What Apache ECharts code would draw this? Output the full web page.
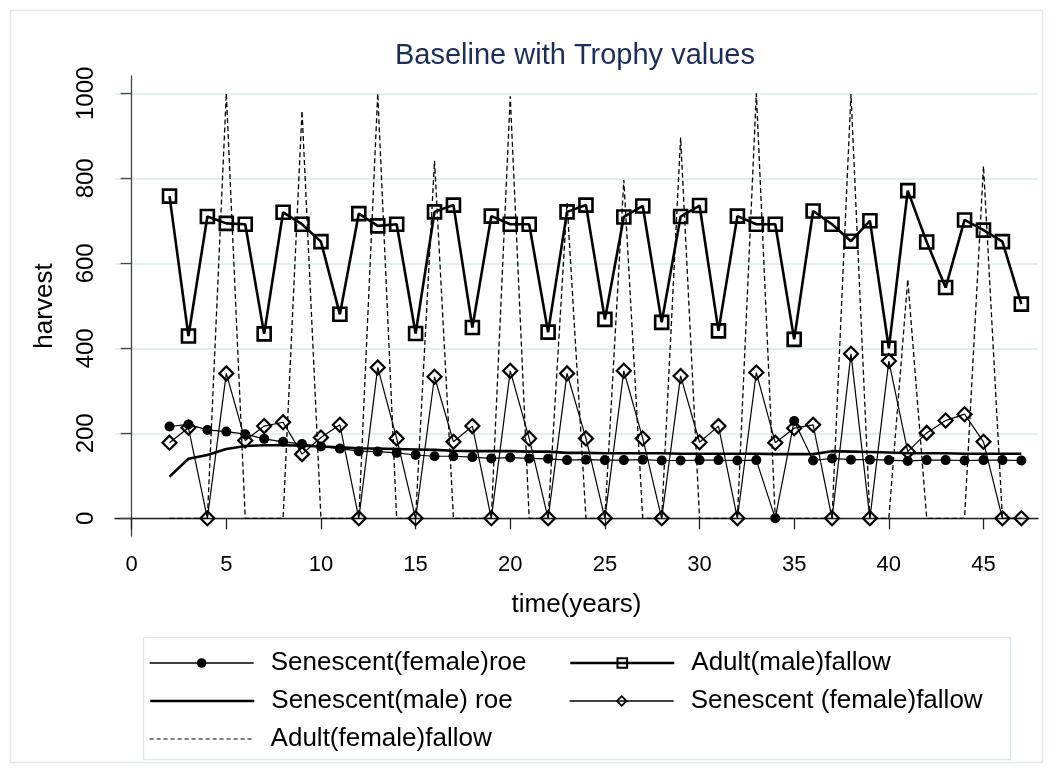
<!DOCTYPE html>
<html>
<head>
<meta charset="utf-8">
<script src="https://cdn.jsdelivr.net/npm/echarts@6/dist/echarts.min.js"></script>
<style>
  html, body { margin: 0; padding: 0; background: #fff; }
  #chart { width: 1053px; height: 773px; }
</style>
</head>
<body>
<div id="chart"></div>
<script>
// Harvest per year, baseline run with trophy values
const years = [2, 3, 4, 5, 6, 7, 8, 9, 10, 11, 12, 13, 14, 15, 16, 17, 18, 19, 20, 21, 22, 23, 24,
  25, 26, 27, 28, 29, 30, 31, 32, 33, 34, 35, 36, 37, 38, 39, 40, 41, 42, 43, 44, 45, 46, 47];

const senescentFemaleRoe = [216, 221, 208, 204, 198, 187, 180, 175, 169, 164, 158, 157, 154, 149,
  146, 146, 144, 141, 143, 141, 140, 137, 138, 137, 137, 138, 136, 136, 137, 137, 136, 137, 0, 229,
  136, 141, 138, 138, 137, 135, 137, 137, 136, 137, 137, 136];

const adultMaleFallow = [758, 429, 710, 694, 692, 434, 720, 692, 651, 480, 717, 688, 692, 435, 721,
  737, 449, 711, 692, 692, 438, 721, 737, 468, 709, 735, 461, 710, 736, 441, 711, 692, 692, 421, 723,
  692, 652, 700, 400, 771, 650, 543, 702, 678, 651, 504];

const senescentMaleRoe = [98, 140, 149, 163, 170, 172, 172, 171, 169, 167, 165, 164, 163, 162, 161,
  159, 158, 158, 158, 157, 157, 154, 154, 153, 153, 153, 153, 152, 152, 152, 152, 152, 151, 151, 151,
  158, 157, 156, 155, 153, 153, 153, 152, 152, 152, 152];

const senescentFemaleFallow = [178, 213, 0, 341, 183, 217, 226, 151, 190, 220, 0, 355, 188, 0, 333,
  180, 217, 0, 347, 188, 0, 341, 188, 0, 347, 188, 0, 335, 179, 217, 0, 343, 178, 212, 220, 0, 387, 0,
  370, 157, 201, 230, 245, 180, 0, 0];

const adultFemaleFallow = [0, 0, 0, 1000, 0, 0, 0, 959, 0, 0, 0, 1000, 0, 0, 841, 0, 0, 0, 993, 0, 0,
  742, 0, 0, 796, 0, 0, 896, 0, 0, 0, 1000, 0, 0, 0, 0, 998, 0, 0, 562, 0, 0, 0, 829, 0, 0];

const seriesNames = ['Senescent(female)roe', 'Adult(male)fallow', 'Senescent(male) roe',
  'Senescent (female)fallow', 'Adult(female)fallow'];

const xTicks = [0, 5, 10, 15, 20, 25, 30, 35, 40, 45];
const yTicks = [0, 200, 400, 600, 800, 1000];

const FONT = '"Liberation Sans", Arial, Helvetica, sans-serif';
const pairs = vals => years.map((x, i) => [x, vals[i]]);

const chart = echarts.init(document.getElementById('chart'), null, { renderer: 'canvas' });

// one legend block per key so the two columns line up
function legendAt(name, left, rowCenter, lineStyle, itemStyle) {
  return {
    data: [{ name: name, lineStyle: lineStyle, itemStyle: itemStyle }],
    left: left,
    top: rowCenter - 13,
    padding: 0,
    itemWidth: 104,
    itemHeight: 12,
    selectedMode: false,
    textStyle: { fontSize: 26, color: '#000', fontFamily: FONT, padding: [0, 0, 0, 12] }
  };
}

const hidden = { opacity: 0 };

chart.setOption({
  animation: false,
  backgroundColor: '#fff',
  title: {
    text: 'Baseline with Trophy values',
    left: 395,
    top: 41,
    padding: 0,
    textStyle: { fontSize: 29, fontWeight: 'normal', color: '#1c2c5b', fontFamily: FONT }
  },
  graphic: [
    { type: 'rect', silent: true, z: -10,
      shape: { x: 10.5, y: 10.5, width: 1032, height: 752 },
      style: { fill: 'none', stroke: '#e1e9ec', lineWidth: 1.5 } },
    { type: 'rect', silent: true, z: -10,
      shape: { x: 143.5, y: 637.5, width: 867, height: 122 },
      style: { fill: '#fff', stroke: '#dde6e9', lineWidth: 1.5 } }
  ],
  legend: [
    legendAt(seriesNames[0], 149, 663, { width: 1.4, type: 'solid' },
      { color: '#000', borderWidth: 0 }),
    legendAt(seriesNames[1], 569, 663, { width: 2.6, type: 'solid' },
      { color: 'rgba(255,255,255,0)', borderColor: '#000', borderWidth: 2 }),
    legendAt(seriesNames[2], 149, 701, { width: 2.6, type: 'solid' }, hidden),
    legendAt(seriesNames[3], 569, 701, { width: 1.4, type: 'solid' },
      { color: 'rgba(255,255,255,0)', borderColor: '#000', borderWidth: 1.8 }),
    legendAt(seriesNames[4], 149, 739, { width: 1.2, type: [4, 3] }, hidden)
  ],
  grid: { left: 115, right: 15, top: 76, height: 460, containLabel: false },
  xAxis: {
    type: 'value',
    min: -0.88,
    max: 47.88,
    name: 'time(years)',
    nameLocation: 'middle',
    nameGap: 56,
    nameTextStyle: { fontSize: 26, color: '#000', fontFamily: FONT },
    axisLine: { lineStyle: { color: '#222', width: 1.3 } },
    axisTick: { show: true, length: 11, customValues: xTicks, lineStyle: { color: '#222', width: 1.3 } },
    axisLabel: { customValues: xTicks, margin: 18, fontSize: 22, color: '#000', fontFamily: FONT,
      formatter: v => String(v) },
    splitLine: { show: false }
  },
  yAxis: {
    type: 'value',
    min: -41.6,
    max: 1040.7,
    name: 'harvest',
    nameLocation: 'middle',
    nameGap: 57,
    nameTextStyle: { fontSize: 26, color: '#000', fontFamily: FONT },
    axisLine: { show: true, lineStyle: { color: '#444', width: 1.3 } },
    axisTick: { show: true, length: 11, customValues: yTicks, lineStyle: { color: '#444', width: 1.3 } },
    axisLabel: { customValues: yTicks, rotate: 90, margin: 17, fontSize: 24, color: '#000', fontFamily: FONT,
      formatter: v => String(v) },
    splitLine: { show: true, lineStyle: { color: '#e4edf0', width: 2 } }
  },
  series: [
    {
      name: seriesNames[0], type: 'line', z: 3,
      data: pairs(senescentFemaleRoe),
      symbol: 'circle', symbolSize: 10,
      itemStyle: { color: '#000' },
      lineStyle: { color: '#000', width: 1.2 }
    },
    {
      name: seriesNames[1], type: 'line', z: 4,
      data: pairs(adultMaleFallow),
      symbol: 'rect', symbolSize: 13,
      itemStyle: { color: 'rgba(255,255,255,0)', borderColor: '#000', borderWidth: 2.6 },
      lineStyle: { color: '#000', width: 2.6 }
    },
    {
      name: seriesNames[2], type: 'line', z: 5,
      data: pairs(senescentMaleRoe),
      symbol: 'none',
      itemStyle: { color: '#000' },
      lineStyle: { color: '#000', width: 2.6 }
    },
    {
      name: seriesNames[3], type: 'line', z: 6,
      data: pairs(senescentFemaleFallow),
      symbol: 'diamond', symbolSize: 14,
      itemStyle: { color: 'rgba(255,255,255,0)', borderColor: '#000', borderWidth: 2.2 },
      lineStyle: { color: '#000', width: 1.2 }
    },
    {
      name: seriesNames[4], type: 'line', z: 7,
      data: pairs(adultFemaleFallow),
      symbol: 'none',
      itemStyle: { color: '#000' },
      lineStyle: { color: '#000', width: 1.3, type: [5, 3] }
    }
  ]
});
</script>
</body>
</html>
